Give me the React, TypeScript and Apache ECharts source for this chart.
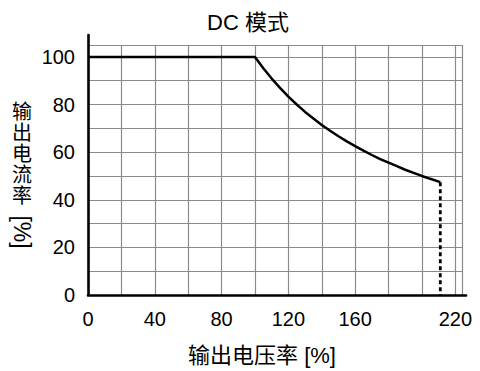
import React, { useEffect, useRef } from "react";
import * as echarts from "echarts";

const titleText = "DC 模式";
const xName = "输出电压率 [%]";
const yNameChars = ["输", "出", "电", "流", "率"];
const yNameUnit = "[%]";

const xTickLabels = [0, 40, 80, 120, 160, 220];
const yTickLabels = [0, 20, 40, 60, 80, 100];

// output voltage rate [%]
const voltage = [0, 100, 105, 110, 115, 120, 125, 130, 135, 140, 145, 150, 155, 160, 165, 170, 175, 180, 185, 190, 195, 200, 205, 211];
// output current rate [%]
const current = [100, 100, 95.2, 90.9, 87, 83.3, 80, 76.9, 74.1, 71.4, 69, 66.7, 64.5, 62.5, 60.6, 58.8, 57.1, 55.6, 54.1, 52.6, 51.3, 50, 48.8, 47.4];

const cutoffX = [211, 211];
const cutoffY = [47.4, 0];

const FONT = '"Liberation Sans", Arial, "Noto Sans CJK SC", sans-serif';

export default function App() {
  const ref = useRef<HTMLDivElement>(null);
  useEffect(() => {
    if (!ref.current) return;
    const chart = echarts.init(ref.current, null, { renderer: "svg" });
    const mainData = voltage.map((v, i) => [v, current[i]]);
    const cutData = cutoffX.map((v, i) => [v, cutoffY[i]]);
    chart.setOption({
      animation: false,
      backgroundColor: "#fff",
      textStyle: { fontFamily: FONT },
      grid: [
        { left: 88, top: 45, width: 374, height: 250 },
        { left: 88, top: 35, width: 378, height: 260 },
      ],
      xAxis: [
        {
          gridIndex: 0,
          type: "value",
          min: 0,
          max: 224,
          interval: 20,
          axisLine: { show: false },
          axisTick: { show: false },
          splitLine: { show: true, lineStyle: { color: "#8a8a8a", width: 1.2 } },
          axisLabel: {
            margin: 14,
            color: "#000",
            fontSize: 20,
            fontFamily: FONT,
            showMaxLabel: true,
            formatter: (v: number) => (xTickLabels.includes(v) ? String(v) : ""),
          },
        },
        {
          gridIndex: 1,
          type: "value",
          min: 0,
          max: 1,
          axisLine: { show: true, lineStyle: { color: "#000", width: 2.6 } },
          axisTick: { show: false },
          axisLabel: { show: false },
          splitLine: { show: false },
        },
      ],
      yAxis: [
        {
          gridIndex: 0,
          type: "value",
          min: 0,
          max: 105,
          interval: 10,
          axisLine: { show: false },
          axisTick: { show: false },
          splitLine: { show: true, lineStyle: { color: "#8a8a8a", width: 1.2 } },
          axisLabel: {
            margin: 13,
            color: "#000",
            fontSize: 20,
            fontFamily: FONT,
            formatter: (v: number) => (yTickLabels.includes(v) ? String(v) : ""),
          },
        },
        {
          gridIndex: 1,
          type: "value",
          min: 0,
          max: 1,
          axisLine: { show: true, lineStyle: { color: "#000", width: 2.6 } },
          axisTick: { show: false },
          axisLabel: { show: false },
          splitLine: { show: false },
        },
      ],
      series: [
        {
          type: "line",
          xAxisIndex: 0,
          yAxisIndex: 0,
          data: mainData,
          showSymbol: false,
          symbol: "none",
          lineStyle: { color: "#000", width: 2.5 },
          z: 5,
        },
        {
          type: "line",
          xAxisIndex: 0,
          yAxisIndex: 0,
          data: cutData,
          showSymbol: false,
          symbol: "none",
          lineStyle: { color: "#000", width: 2.8, type: [4, 3] },
          z: 5,
        },
      ],
      graphic: [
        {
          type: "text",
          x: 248,
          y: 22,
          style: {
            text: titleText,
            fontSize: 22,
            fontFamily: FONT,
            fill: "#000",
            align: "center",
            verticalAlign: "middle",
          },
        },
        {
          type: "text",
          x: 262,
          y: 355,
          style: {
            text: xName,
            fontSize: 22,
            fontFamily: FONT,
            fill: "#000",
            align: "center",
            verticalAlign: "middle",
          },
        },
        {
          type: "text",
          x: 22,
          y: 101,
          style: {
            text: yNameChars.join("\n"),
            fontSize: 20,
            lineHeight: 21,
            fontFamily: FONT,
            fill: "#000",
            align: "center",
            verticalAlign: "top",
          },
        },
        {
          type: "text",
          x: 22,
          y: 232,
          rotation: -Math.PI / 2,
          style: {
            text: yNameUnit,
            fontSize: 23,
            fontFamily: FONT,
            fill: "#000",
            align: "center",
            verticalAlign: "middle",
          },
        },
      ],
    });
    return () => chart.dispose();
  }, []);
  return <div ref={ref} style={{ width: 480, height: 371, position: "absolute", left: 0, top: 0 }} />;
}
